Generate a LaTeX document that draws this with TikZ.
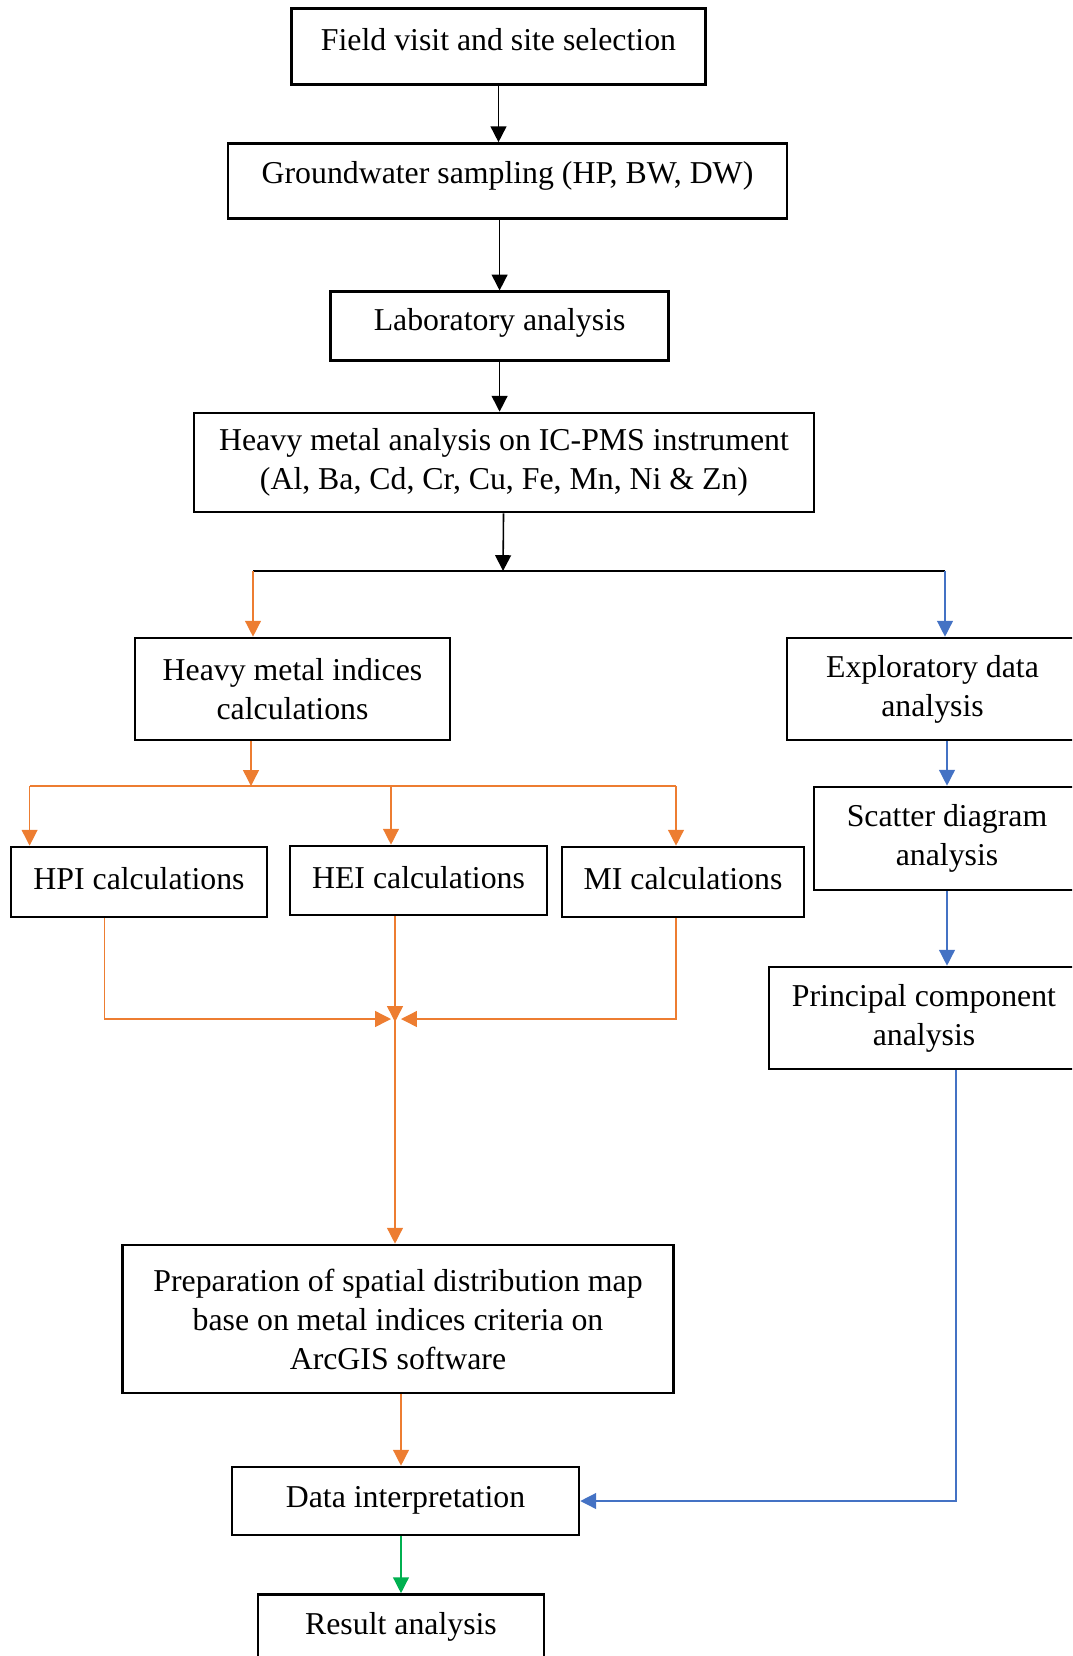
\documentclass[tikz,border=0pt]{standalone}
\usepackage{fontspec}
\setmainfont{Liberation Serif}
\usetikzlibrary{positioning}
\usetikzlibrary{arrows.meta}
\definecolor{flowOrange}{RGB}{237,125,49}
\definecolor{flowBlue}{RGB}{68,114,196}
\definecolor{flowGreen}{RGB}{0,176,80}

\begin{document}
\begin{tikzpicture}[x=0.02cm,y=-0.02cm,every node/.style={font=\fontsize{18.1}{22.2}\selectfont}]
	
	\tikzstyle{stage}=[rectangle,draw=black,line width=1.5pt,align=center,inner sep=0pt]
	\tikzstyle{link}=[line width=0.9pt,-{Triangle[length=9pt,width=9pt]}]
	\tikzstyle{orange link}=[link,line width=0.8pt,draw=flowOrange]
	\tikzstyle{blue link}=[link,line width=0.8pt,draw=flowBlue]
	\tikzstyle{green link}=[link,line width=0.8pt,draw=flowGreen]
	
	\useasboundingbox (0,0) rectangle (1072,1656);
	\clip (0,0) rectangle (1072,1656);
	
	% Main column:
	\node [stage,minimum width=8.28cm,minimum height=1.52cm,text depth=0.3cm] at (498.5,46.5) (field) {Field visit and site selection};
	\node [stage,minimum width=11.18cm,minimum height=1.5cm,text depth=0.36cm] at (507.5,181) (ground) {Groundwater sampling (HP, BW, DW)};
	\node [stage,minimum width=6.76cm,minimum height=1.37cm,text depth=0.28cm] at (499.6,326) (lab) {Laboratory analysis};
	\node [stage,minimum width=12.4cm,minimum height=1.98cm] at (504,462.5) (heavy) {Heavy metal analysis on IC-PMS instrument\\(Al, Ba, Cd, Cr, Cu, Fe, Mn, Ni \& Zn)};
	\draw[link] (field) -- (field |- ground.north);
	\draw[link] (lab |- ground.south) -- (lab.north);
	\draw[link] (lab.south) -- (lab.south |- heavy.north);
	
	% Fork:
	\coordinate (fork) at (503,571);
	\coordinate (forkL) at (253,571);
	\coordinate (forkR) at (945,571);
	\draw[link] (heavy) -- (fork);
	\draw[line width=0.8pt] (forkL) -- (forkR);
	
	% Indices branch:
	\node [stage,minimum width=6.3cm,minimum height=2.04cm] at (292.5,689) (hmi) {Heavy metal indices\\calculations};
	\node [stage,minimum width=5.12cm,minimum height=1.4cm,text depth=0.13cm] at (139,882) (hpi) {HPI calculations};
	\node [stage,minimum width=5.14cm,minimum height=1.38cm,text depth=0.13cm] at (418.5,880.5) (hei) {HEI calculations};
	\node [stage,minimum width=4.84cm,minimum height=1.4cm,text depth=0.13cm] at (683,882) (mi) {MI calculations};
	\draw[orange link] (forkL) -- (forkL |- hmi.north);
	\coordinate (bar) at (251,786);
	\coordinate (barL) at (29.6,786);
	\coordinate (barM) at (391,786);
	\coordinate (barR) at (676,786);
	\draw[orange link] (hmi.south -| bar) -- (bar);
	\draw[flowOrange,line width=0.8pt] (barL) -- (barR);
	\draw[orange link] (barL) -- (barL |- hpi.north);
	\draw[orange link] (barM) -- (barM |- hei.north);
	\draw[orange link] (barR) -- (barR |- mi.north);
	
	\coordinate (merge) at (395,1019);
	\draw[orange link] ([xshift=1.9cm]hpi.south west) |- ([xshift=-0.08cm]merge);
	\draw[orange link] (hei.south -| merge) -- ([yshift=-0.06cm]merge);
	\draw[orange link] (mi.south -| barR) |- ([xshift=0.12cm]merge);
	
	\node [stage,minimum width=11.03cm,minimum height=2.96cm] at (398,1319) (prep) {Preparation of spatial distribution map\\base on metal indices criteria on\\ArcGIS software};
	\draw[orange link] (merge) -- (merge |- prep.north);
	
	% Statistics branch:
	\node [stage,minimum width=5.82cm,minimum height=2.04cm] at (932.5,689) (eda) {Exploratory data\\analysis};
	\node [stage,minimum width=5.32cm,minimum height=2.06cm] at (947,838.5) (scatter) {Scatter diagram\\analysis};
	\node [stage,minimum width=6.2cm,minimum height=2.04cm] at (924,1018) (pca) {Principal component\\analysis};
	\draw[blue link] (forkR) -- (forkR |- eda.north);
	\draw[blue link] (eda.south -| scatter) -- (scatter);
	\draw[blue link] (scatter) -- (scatter |- pca.north);
	
	% Output:
	\node [stage,minimum width=6.94cm,minimum height=1.36cm,text depth=0.18cm] at (405.5,1501) (interp) {Data interpretation};
	\node [stage,minimum width=5.72cm,minimum height=1.3cm] at (401,1627) (result) {Result analysis};
	\draw[orange link] (prep.south -| result) -- (interp.north -| result);
	\draw[blue link] ([xshift=0.64cm]pca.south) |- (interp.east);
	\draw[green link] (interp.south -| result) -- (result);
	
\end{tikzpicture}
\end{document}
